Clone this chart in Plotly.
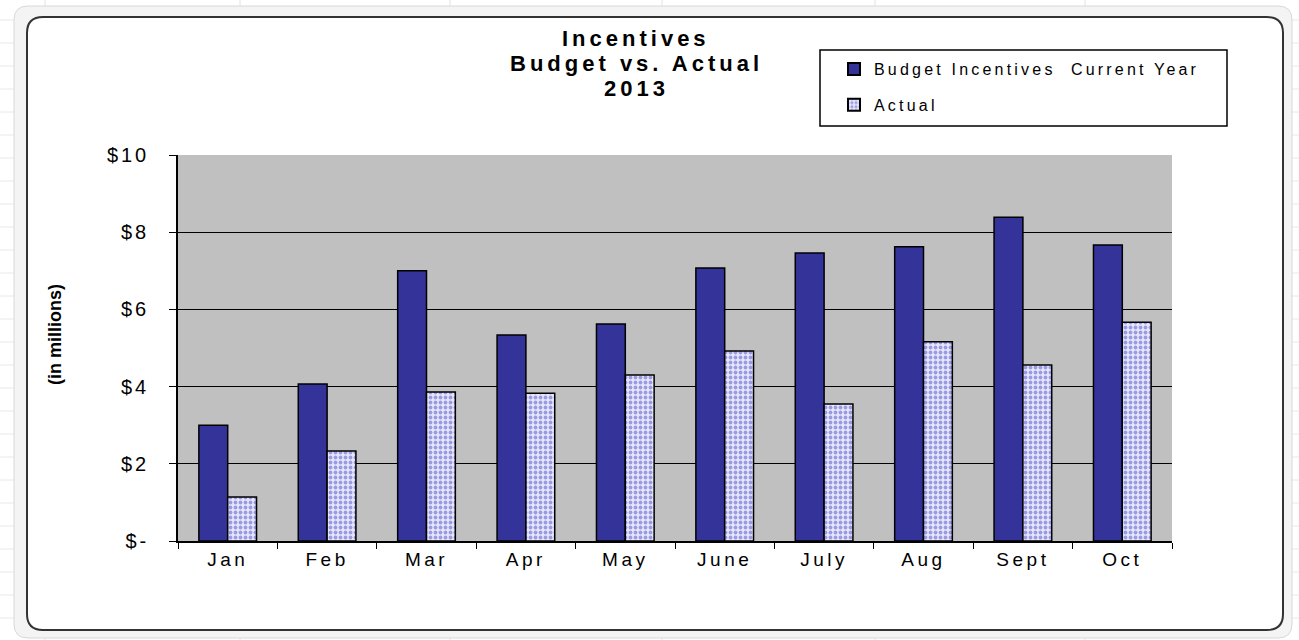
import plotly.graph_objects as go

months = ['Jan', 'Feb', 'Mar', 'Apr', 'May', 'June', 'July', 'Aug', 'Sept', 'Oct']
budget = [3.0, 4.07, 7.0, 5.34, 5.62, 7.07, 7.46, 7.62, 8.39, 7.67]
actual = [1.14, 2.33, 3.86, 3.83, 4.30, 4.92, 3.55, 5.16, 4.56, 5.67]
tick_vals = [0, 2, 4, 6, 8, 10]
tick_text = ['$-', '$2', '$4', '$6', '$8', '$10']
title_lines = ['Incentives', 'Budget vs. Actual', '2013']

W, H = 1299, 640
L, R, T, B = 178, 1172, 155, 541


def px(x):
    return (x - L) / (R - L)


def py(y):
    return (B - y) / (B - T)


def spaced(s, sp=2):
    # excel text in the source is rendered quite wide
    return f'<span style="letter-spacing:{sp}px">{s}</span>'


def rounded_rect(x0, y0, x1, y1, r):
    # path in paper coords, corners rounded
    pts = [
        f"M {px(x0 + r)},{py(y0)}",
        f"L {px(x1 - r)},{py(y0)}",
        f"Q {px(x1)},{py(y0)} {px(x1)},{py(y0 + r)}",
        f"L {px(x1)},{py(y1 - r)}",
        f"Q {px(x1)},{py(y1)} {px(x1 - r)},{py(y1)}",
        f"L {px(x0 + r)},{py(y1)}",
        f"Q {px(x0)},{py(y1)} {px(x0)},{py(y1 - r)}",
        f"L {px(x0)},{py(y0 + r)}",
        f"Q {px(x0)},{py(y0)} {px(x0 + r)},{py(y0)}",
        "Z",
    ]
    return " ".join(pts)


fig = go.Figure()

fig.add_trace(go.Bar(
    x=months, y=budget,
    name=spaced('Budget Incentives  Current Year', 3.2),
    legendgroup='a',
    marker=dict(color='#333399', line=dict(color='black', width=1.5)),
))

fig.add_trace(go.Bar(
    x=months, y=actual,
    name=spaced('Actual', 3.2),
    legendgroup='b',
    marker=dict(
        color='#e4e4ff',
        line=dict(color='black', width=1.5),
        pattern=dict(shape='.', fgcolor='#5050c0', bgcolor='#e6e6ff', size=5, solidity=0.45),
    ),
))

shapes = []
# excel grid lines behind the chart
for gx in [45, 240, 450, 662, 875, 1085]:
    shapes.append(dict(type='line', xref='paper', yref='paper', x0=px(gx), x1=px(gx),
                       y0=py(0), y1=py(H), line=dict(color='#e2e2e2', width=1), layer='below'))
for gy in range(20, 640, 23):
    shapes.append(dict(type='line', xref='paper', yref='paper', x0=px(0), x1=px(W),
                       y0=py(gy), y1=py(gy), line=dict(color='#e8e8e8', width=1), layer='below'))
# outer gray frame + white chart area
shapes.append(dict(type='path', xref='paper', yref='paper',
                   path=rounded_rect(14, 6, 1292, 638, 14),
                   fillcolor='#f4f4f4', line=dict(color='#d8d8d8', width=1), layer='below'))
shapes.append(dict(type='path', xref='paper', yref='paper',
                   path=rounded_rect(27, 17, 1283, 630, 16),
                   fillcolor='white', line=dict(color='#333333', width=2), layer='below'))
# plot area background (drawn over the white frame)
shapes.append(dict(type='rect', xref='paper', yref='paper', x0=0, x1=1, y0=0, y1=1,
                   fillcolor='#c0c0c0', line=dict(width=0), layer='below'))
# legend box
shapes.append(dict(type='rect', xref='paper', yref='paper',
                   x0=px(820), x1=px(1227), y0=py(126), y1=py(50),
                   fillcolor='white', line=dict(color='black', width=1.5), layer='below'))

fig.update_layout(
    width=W, height=H,
    margin=dict(l=L, r=W - R, t=T, b=H - B),
    paper_bgcolor='white',
    plot_bgcolor='#c0c0c0',
    barmode='group',
    bargap=0.42,
    bargroupgap=0,
    font=dict(family='Liberation Sans, Arial, sans-serif', color='black', size=17),
    legend=dict(
        x=px(834), xanchor='left', y=py(52), yanchor='top',
        bgcolor='rgba(0,0,0,0)', borderwidth=0,
        font=dict(size=16, color='black'),
        tracegroupgap=12, itemsizing='constant', itemwidth=30,
    ),
    showlegend=True,
    shapes=shapes,
    xaxis=dict(
        showline=True, linecolor='black', linewidth=1.5,
        ticks='outside', tickson='boundaries', ticklen=6, tickcolor='black',
        tickfont=dict(size=19),
        tickvals=months, ticktext=[spaced(m, 3.5) for m in months],
        showgrid=False,
    ),
    yaxis=dict(
        range=[0, 10], tickvals=tick_vals, ticktext=[spaced(t, 3) for t in tick_text],
        showline=True, linecolor='black', linewidth=1.5,
        ticks='outside', ticklen=7, tickcolor='black',
        ticklabelstandoff=16,
        showgrid=True, gridcolor='black', gridwidth=1,
        tickfont=dict(size=20),
        zeroline=False, mirror=False,
    ),
)

# title as three separate lines for tighter line spacing
for i, line in enumerate(title_lines):
    fig.add_annotation(
        text='<b>' + spaced(line, 4) + '</b>',
        xref='paper', yref='paper',
        x=px(636), y=py(38 + 25 * i), xanchor='center', yanchor='middle', showarrow=False,
        font=dict(size=22, color='black'),
    )

fig.add_annotation(
    text='<b>(in millions)</b>', xref='paper', yref='paper',
    x=px(55), y=py(335), xanchor='center', yanchor='middle', textangle=-90, showarrow=False,
    font=dict(family='Liberation Sans Narrow, Liberation Sans, Arial', size=18, color='black'),
)

fig.write_html('out.html', config={'displayModeBar': False},
               post_script="document.body.style.margin='0';")
